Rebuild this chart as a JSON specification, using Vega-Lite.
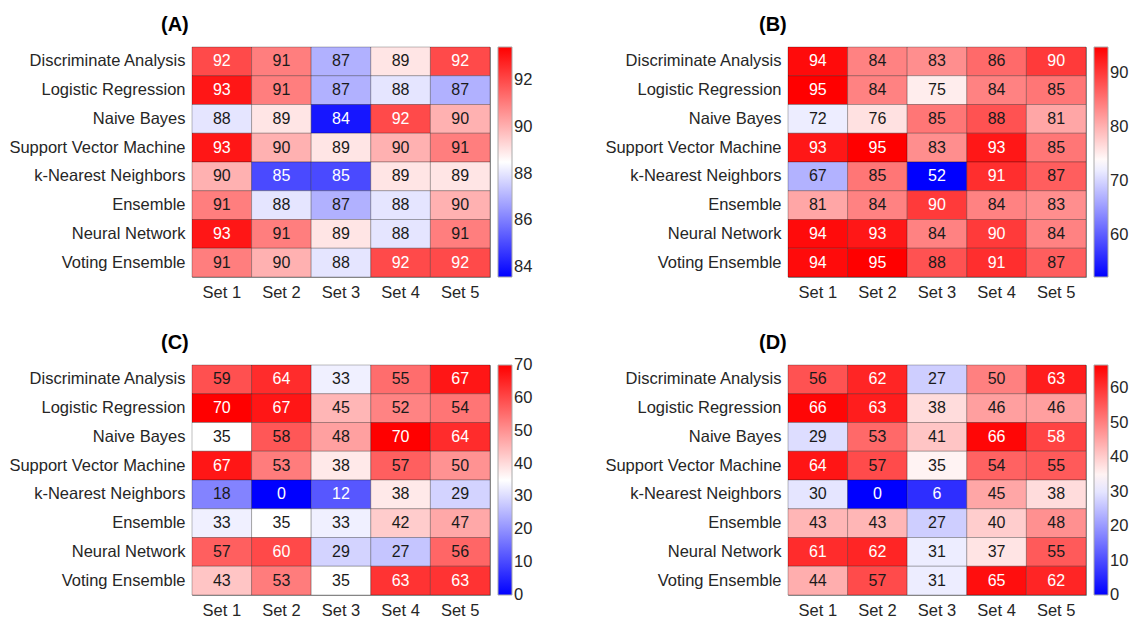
{
  "$schema": "https://vega.github.io/schema/vega-lite/v6.json",
  "background": "white",
  "padding": {"left": 8, "top": 14, "right": 1, "bottom": 2},
  "data": {"values": [
    {"p":"A","m":"Discriminate Analysis","s":"Set 1","v":92},{"p":"A","m":"Discriminate Analysis","s":"Set 2","v":91},{"p":"A","m":"Discriminate Analysis","s":"Set 3","v":87},{"p":"A","m":"Discriminate Analysis","s":"Set 4","v":89},{"p":"A","m":"Discriminate Analysis","s":"Set 5","v":92},
    {"p":"A","m":"Logistic Regression","s":"Set 1","v":93},{"p":"A","m":"Logistic Regression","s":"Set 2","v":91},{"p":"A","m":"Logistic Regression","s":"Set 3","v":87},{"p":"A","m":"Logistic Regression","s":"Set 4","v":88},{"p":"A","m":"Logistic Regression","s":"Set 5","v":87},
    {"p":"A","m":"Naive Bayes","s":"Set 1","v":88},{"p":"A","m":"Naive Bayes","s":"Set 2","v":89},{"p":"A","m":"Naive Bayes","s":"Set 3","v":84},{"p":"A","m":"Naive Bayes","s":"Set 4","v":92},{"p":"A","m":"Naive Bayes","s":"Set 5","v":90},
    {"p":"A","m":"Support Vector Machine","s":"Set 1","v":93},{"p":"A","m":"Support Vector Machine","s":"Set 2","v":90},{"p":"A","m":"Support Vector Machine","s":"Set 3","v":89},{"p":"A","m":"Support Vector Machine","s":"Set 4","v":90},{"p":"A","m":"Support Vector Machine","s":"Set 5","v":91},
    {"p":"A","m":"k-Nearest Neighbors","s":"Set 1","v":90},{"p":"A","m":"k-Nearest Neighbors","s":"Set 2","v":85},{"p":"A","m":"k-Nearest Neighbors","s":"Set 3","v":85},{"p":"A","m":"k-Nearest Neighbors","s":"Set 4","v":89},{"p":"A","m":"k-Nearest Neighbors","s":"Set 5","v":89},
    {"p":"A","m":"Ensemble","s":"Set 1","v":91},{"p":"A","m":"Ensemble","s":"Set 2","v":88},{"p":"A","m":"Ensemble","s":"Set 3","v":87},{"p":"A","m":"Ensemble","s":"Set 4","v":88},{"p":"A","m":"Ensemble","s":"Set 5","v":90},
    {"p":"A","m":"Neural Network","s":"Set 1","v":93},{"p":"A","m":"Neural Network","s":"Set 2","v":91},{"p":"A","m":"Neural Network","s":"Set 3","v":89},{"p":"A","m":"Neural Network","s":"Set 4","v":88},{"p":"A","m":"Neural Network","s":"Set 5","v":91},
    {"p":"A","m":"Voting Ensemble","s":"Set 1","v":91},{"p":"A","m":"Voting Ensemble","s":"Set 2","v":90},{"p":"A","m":"Voting Ensemble","s":"Set 3","v":88},{"p":"A","m":"Voting Ensemble","s":"Set 4","v":92},{"p":"A","m":"Voting Ensemble","s":"Set 5","v":92},

    {"p":"B","m":"Discriminate Analysis","s":"Set 1","v":94},{"p":"B","m":"Discriminate Analysis","s":"Set 2","v":84},{"p":"B","m":"Discriminate Analysis","s":"Set 3","v":83},{"p":"B","m":"Discriminate Analysis","s":"Set 4","v":86},{"p":"B","m":"Discriminate Analysis","s":"Set 5","v":90},
    {"p":"B","m":"Logistic Regression","s":"Set 1","v":95},{"p":"B","m":"Logistic Regression","s":"Set 2","v":84},{"p":"B","m":"Logistic Regression","s":"Set 3","v":75},{"p":"B","m":"Logistic Regression","s":"Set 4","v":84},{"p":"B","m":"Logistic Regression","s":"Set 5","v":85},
    {"p":"B","m":"Naive Bayes","s":"Set 1","v":72},{"p":"B","m":"Naive Bayes","s":"Set 2","v":76},{"p":"B","m":"Naive Bayes","s":"Set 3","v":85},{"p":"B","m":"Naive Bayes","s":"Set 4","v":88},{"p":"B","m":"Naive Bayes","s":"Set 5","v":81},
    {"p":"B","m":"Support Vector Machine","s":"Set 1","v":93},{"p":"B","m":"Support Vector Machine","s":"Set 2","v":95},{"p":"B","m":"Support Vector Machine","s":"Set 3","v":83},{"p":"B","m":"Support Vector Machine","s":"Set 4","v":93},{"p":"B","m":"Support Vector Machine","s":"Set 5","v":85},
    {"p":"B","m":"k-Nearest Neighbors","s":"Set 1","v":67},{"p":"B","m":"k-Nearest Neighbors","s":"Set 2","v":85},{"p":"B","m":"k-Nearest Neighbors","s":"Set 3","v":52},{"p":"B","m":"k-Nearest Neighbors","s":"Set 4","v":91},{"p":"B","m":"k-Nearest Neighbors","s":"Set 5","v":87},
    {"p":"B","m":"Ensemble","s":"Set 1","v":81},{"p":"B","m":"Ensemble","s":"Set 2","v":84},{"p":"B","m":"Ensemble","s":"Set 3","v":90},{"p":"B","m":"Ensemble","s":"Set 4","v":84},{"p":"B","m":"Ensemble","s":"Set 5","v":83},
    {"p":"B","m":"Neural Network","s":"Set 1","v":94},{"p":"B","m":"Neural Network","s":"Set 2","v":93},{"p":"B","m":"Neural Network","s":"Set 3","v":84},{"p":"B","m":"Neural Network","s":"Set 4","v":90},{"p":"B","m":"Neural Network","s":"Set 5","v":84},
    {"p":"B","m":"Voting Ensemble","s":"Set 1","v":94},{"p":"B","m":"Voting Ensemble","s":"Set 2","v":95},{"p":"B","m":"Voting Ensemble","s":"Set 3","v":88},{"p":"B","m":"Voting Ensemble","s":"Set 4","v":91},{"p":"B","m":"Voting Ensemble","s":"Set 5","v":87},

    {"p":"C","m":"Discriminate Analysis","s":"Set 1","v":59},{"p":"C","m":"Discriminate Analysis","s":"Set 2","v":64},{"p":"C","m":"Discriminate Analysis","s":"Set 3","v":33},{"p":"C","m":"Discriminate Analysis","s":"Set 4","v":55},{"p":"C","m":"Discriminate Analysis","s":"Set 5","v":67},
    {"p":"C","m":"Logistic Regression","s":"Set 1","v":70},{"p":"C","m":"Logistic Regression","s":"Set 2","v":67},{"p":"C","m":"Logistic Regression","s":"Set 3","v":45},{"p":"C","m":"Logistic Regression","s":"Set 4","v":52},{"p":"C","m":"Logistic Regression","s":"Set 5","v":54},
    {"p":"C","m":"Naive Bayes","s":"Set 1","v":35},{"p":"C","m":"Naive Bayes","s":"Set 2","v":58},{"p":"C","m":"Naive Bayes","s":"Set 3","v":48},{"p":"C","m":"Naive Bayes","s":"Set 4","v":70},{"p":"C","m":"Naive Bayes","s":"Set 5","v":64},
    {"p":"C","m":"Support Vector Machine","s":"Set 1","v":67},{"p":"C","m":"Support Vector Machine","s":"Set 2","v":53},{"p":"C","m":"Support Vector Machine","s":"Set 3","v":38},{"p":"C","m":"Support Vector Machine","s":"Set 4","v":57},{"p":"C","m":"Support Vector Machine","s":"Set 5","v":50},
    {"p":"C","m":"k-Nearest Neighbors","s":"Set 1","v":18},{"p":"C","m":"k-Nearest Neighbors","s":"Set 2","v":0},{"p":"C","m":"k-Nearest Neighbors","s":"Set 3","v":12},{"p":"C","m":"k-Nearest Neighbors","s":"Set 4","v":38},{"p":"C","m":"k-Nearest Neighbors","s":"Set 5","v":29},
    {"p":"C","m":"Ensemble","s":"Set 1","v":33},{"p":"C","m":"Ensemble","s":"Set 2","v":35},{"p":"C","m":"Ensemble","s":"Set 3","v":33},{"p":"C","m":"Ensemble","s":"Set 4","v":42},{"p":"C","m":"Ensemble","s":"Set 5","v":47},
    {"p":"C","m":"Neural Network","s":"Set 1","v":57},{"p":"C","m":"Neural Network","s":"Set 2","v":60},{"p":"C","m":"Neural Network","s":"Set 3","v":29},{"p":"C","m":"Neural Network","s":"Set 4","v":27},{"p":"C","m":"Neural Network","s":"Set 5","v":56},
    {"p":"C","m":"Voting Ensemble","s":"Set 1","v":43},{"p":"C","m":"Voting Ensemble","s":"Set 2","v":53},{"p":"C","m":"Voting Ensemble","s":"Set 3","v":35},{"p":"C","m":"Voting Ensemble","s":"Set 4","v":63},{"p":"C","m":"Voting Ensemble","s":"Set 5","v":63},

    {"p":"D","m":"Discriminate Analysis","s":"Set 1","v":56},{"p":"D","m":"Discriminate Analysis","s":"Set 2","v":62},{"p":"D","m":"Discriminate Analysis","s":"Set 3","v":27},{"p":"D","m":"Discriminate Analysis","s":"Set 4","v":50},{"p":"D","m":"Discriminate Analysis","s":"Set 5","v":63},
    {"p":"D","m":"Logistic Regression","s":"Set 1","v":66},{"p":"D","m":"Logistic Regression","s":"Set 2","v":63},{"p":"D","m":"Logistic Regression","s":"Set 3","v":38},{"p":"D","m":"Logistic Regression","s":"Set 4","v":46},{"p":"D","m":"Logistic Regression","s":"Set 5","v":46},
    {"p":"D","m":"Naive Bayes","s":"Set 1","v":29},{"p":"D","m":"Naive Bayes","s":"Set 2","v":53},{"p":"D","m":"Naive Bayes","s":"Set 3","v":41},{"p":"D","m":"Naive Bayes","s":"Set 4","v":66},{"p":"D","m":"Naive Bayes","s":"Set 5","v":58},
    {"p":"D","m":"Support Vector Machine","s":"Set 1","v":64},{"p":"D","m":"Support Vector Machine","s":"Set 2","v":57},{"p":"D","m":"Support Vector Machine","s":"Set 3","v":35},{"p":"D","m":"Support Vector Machine","s":"Set 4","v":54},{"p":"D","m":"Support Vector Machine","s":"Set 5","v":55},
    {"p":"D","m":"k-Nearest Neighbors","s":"Set 1","v":30},{"p":"D","m":"k-Nearest Neighbors","s":"Set 2","v":0},{"p":"D","m":"k-Nearest Neighbors","s":"Set 3","v":6},{"p":"D","m":"k-Nearest Neighbors","s":"Set 4","v":45},{"p":"D","m":"k-Nearest Neighbors","s":"Set 5","v":38},
    {"p":"D","m":"Ensemble","s":"Set 1","v":43},{"p":"D","m":"Ensemble","s":"Set 2","v":43},{"p":"D","m":"Ensemble","s":"Set 3","v":27},{"p":"D","m":"Ensemble","s":"Set 4","v":40},{"p":"D","m":"Ensemble","s":"Set 5","v":48},
    {"p":"D","m":"Neural Network","s":"Set 1","v":61},{"p":"D","m":"Neural Network","s":"Set 2","v":62},{"p":"D","m":"Neural Network","s":"Set 3","v":31},{"p":"D","m":"Neural Network","s":"Set 4","v":37},{"p":"D","m":"Neural Network","s":"Set 5","v":55},
    {"p":"D","m":"Voting Ensemble","s":"Set 1","v":44},{"p":"D","m":"Voting Ensemble","s":"Set 2","v":57},{"p":"D","m":"Voting Ensemble","s":"Set 3","v":31},{"p":"D","m":"Voting Ensemble","s":"Set 4","v":65},{"p":"D","m":"Voting Ensemble","s":"Set 5","v":62}
  ]},
  "columns": 2,
  "spacing": {"row": 31, "column": 70},
  "resolve": {"scale": {"color": "independent"}, "legend": {"color": "independent"}},
  "concat": [
    {
      "title": {"text": "(A)", "anchor": "start", "frame": "group", "dx": -31, "offset": 12},
      "width": 298, "height": 230,
      "transform": [{"filter": "datum.p == 'A'"}],
      "encoding": {
        "x": {"field": "s", "type": "nominal", "title": null, "scale": {"paddingInner": 0, "paddingOuter": 0}, "axis": {"labelAngle": 0}},
        "y": {"field": "m", "type": "nominal", "title": null, "sort": ["Discriminate Analysis","Logistic Regression","Naive Bayes","Support Vector Machine","k-Nearest Neighbors","Ensemble","Neural Network","Voting Ensemble"]}
      },
      "layer": [
        {"mark": {"type": "rect", "stroke": "#000000", "strokeOpacity": 0.25, "strokeWidth": 1},
         "encoding": {"color": {"field": "v", "type": "quantitative",
           "scale": {"domain": [83.57, 88.5, 93.43], "range": ["#0000ff", "#ffffff", "#ff0000"], "interpolate": "rgb"},
           "legend": {"values": [84, 86, 88, 90, 92]}}}},
        {"mark": {"type": "text", "fontSize": 16},
         "encoding": {"text": {"field": "v", "type": "quantitative", "format": ".0f"},
           "color": {"condition": {"test": "datum.v >= 92 || datum.v <= 85", "value": "#ffffff"}, "value": "#1a1a1a"}}}
      ]
    },
    {
      "title": {"text": "(B)", "anchor": "start", "frame": "group", "dx": -29, "offset": 12},
      "width": 298, "height": 230,
      "transform": [{"filter": "datum.p == 'B'"}],
      "encoding": {
        "x": {"field": "s", "type": "nominal", "title": null, "scale": {"paddingInner": 0, "paddingOuter": 0}, "axis": {"labelAngle": 0}},
        "y": {"field": "m", "type": "nominal", "title": null, "sort": ["Discriminate Analysis","Logistic Regression","Naive Bayes","Support Vector Machine","k-Nearest Neighbors","Ensemble","Neural Network","Voting Ensemble"]}
      },
      "layer": [
        {"mark": {"type": "rect", "stroke": "#000000", "strokeOpacity": 0.25, "strokeWidth": 1},
         "encoding": {"color": {"field": "v", "type": "quantitative",
           "scale": {"domain": [52.1, 73.5, 94.9], "range": ["#0000ff", "#ffffff", "#ff0000"], "interpolate": "rgb"},
           "legend": {"values": [60, 70, 80, 90]}}}},
        {"mark": {"type": "text", "fontSize": 16},
         "encoding": {"text": {"field": "v", "type": "quantitative", "format": ".0f"},
           "color": {"condition": {"test": "datum.v >= 90 || datum.v <= 52", "value": "#ffffff"}, "value": "#1a1a1a"}}}
      ]
    },
    {
      "title": {"text": "(C)", "anchor": "start", "frame": "group", "dx": -31, "offset": 12},
      "width": 298, "height": 230,
      "transform": [{"filter": "datum.p == 'C'"}],
      "encoding": {
        "x": {"field": "s", "type": "nominal", "title": null, "scale": {"paddingInner": 0, "paddingOuter": 0}, "axis": {"labelAngle": 0}},
        "y": {"field": "m", "type": "nominal", "title": null, "sort": ["Discriminate Analysis","Logistic Regression","Naive Bayes","Support Vector Machine","k-Nearest Neighbors","Ensemble","Neural Network","Voting Ensemble"]}
      },
      "layer": [
        {"mark": {"type": "rect", "stroke": "#000000", "strokeOpacity": 0.25, "strokeWidth": 1},
         "encoding": {"color": {"field": "v", "type": "quantitative",
           "scale": {"domain": [0, 35, 70], "range": ["#0000ff", "#ffffff", "#ff0000"], "interpolate": "rgb"},
           "legend": {"values": [0, 10, 20, 30, 40, 50, 60, 70], "encode": {"labels": {"update": {"baseline": {"value": "middle"}}}}}}}},
        {"mark": {"type": "text", "fontSize": 16},
         "encoding": {"text": {"field": "v", "type": "quantitative", "format": ".0f"},
           "color": {"condition": {"test": "datum.v >= 60 || datum.v <= 12", "value": "#ffffff"}, "value": "#1a1a1a"}}}
      ]
    },
    {
      "title": {"text": "(D)", "anchor": "start", "frame": "group", "dx": -29, "offset": 12},
      "width": 298, "height": 230,
      "transform": [{"filter": "datum.p == 'D'"}],
      "encoding": {
        "x": {"field": "s", "type": "nominal", "title": null, "scale": {"paddingInner": 0, "paddingOuter": 0}, "axis": {"labelAngle": 0}},
        "y": {"field": "m", "type": "nominal", "title": null, "sort": ["Discriminate Analysis","Logistic Regression","Naive Bayes","Support Vector Machine","k-Nearest Neighbors","Ensemble","Neural Network","Voting Ensemble"]}
      },
      "layer": [
        {"mark": {"type": "rect", "stroke": "#000000", "strokeOpacity": 0.25, "strokeWidth": 1},
         "encoding": {"color": {"field": "v", "type": "quantitative",
           "scale": {"domain": [0, 33.4, 66.8], "range": ["#0000ff", "#ffffff", "#ff0000"], "interpolate": "rgb"},
           "legend": {"values": [0, 10, 20, 30, 40, 50, 60], "encode": {"labels": {"update": {"baseline": {"value": "middle"}}}}}}}},
        {"mark": {"type": "text", "fontSize": 16},
         "encoding": {"text": {"field": "v", "type": "quantitative", "format": ".0f"},
           "color": {"condition": {"test": "datum.v >= 58 || datum.v <= 6", "value": "#ffffff"}, "value": "#1a1a1a"}}}
      ]
    }
  ],
  "config": {
    "font": "Liberation Sans",
    "view": {"stroke": "#999999"},
    "title": {"fontSize": 20, "fontWeight": "bold", "color": "#000000", "font": "Liberation Sans"},
    "axis": {"domain": false, "ticks": false, "labelFontSize": 16.5, "labelColor": "#262626", "labelPadding": 7, "labelFont": "Liberation Sans"},
    "legend": {"title": null, "gradientLength": 230, "gradientThickness": 14, "offset": 8, "labelFontSize": 16.5, "labelColor": "#262626", "labelFont": "Liberation Sans", "gradientStrokeColor": "#aaaaaa", "gradientStrokeWidth": 1, "labelOffset": 5}
  }
}
